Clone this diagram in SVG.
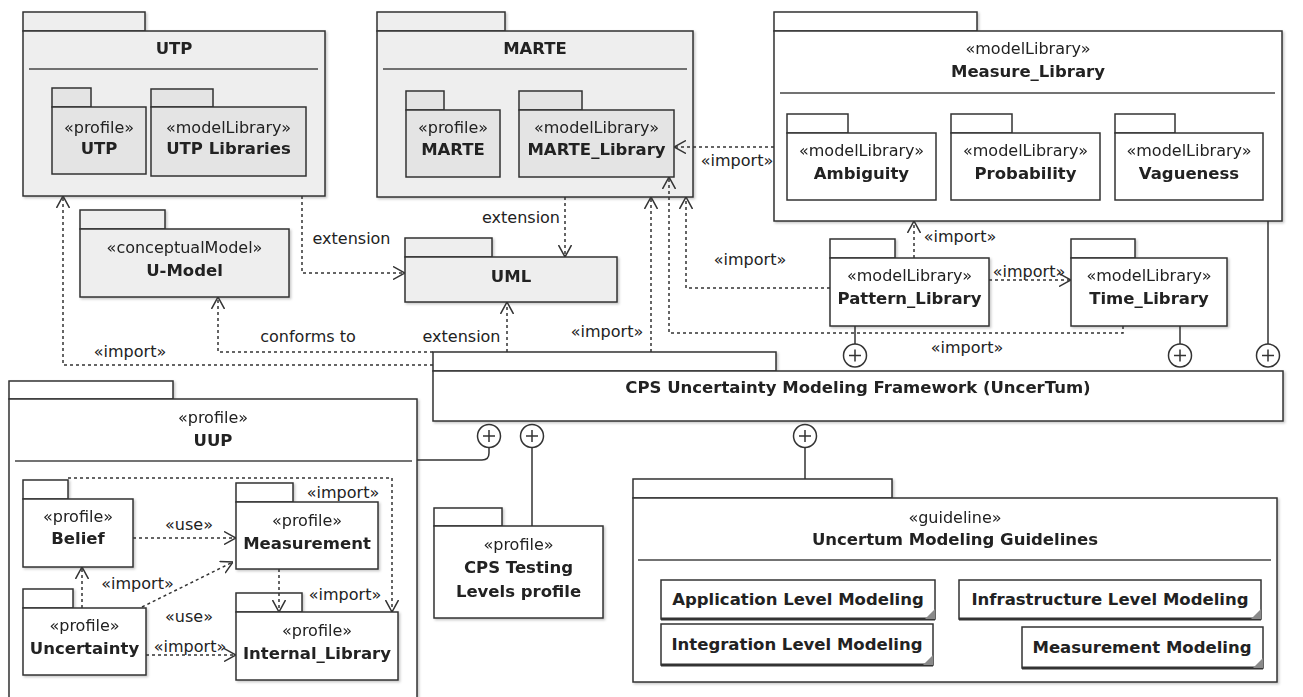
<svg xmlns="http://www.w3.org/2000/svg" width="1303" height="697" viewBox="0 0 1303 697">
  <style>
    .pk { stroke: #333; stroke-width: 1.5; }
    .g1 { fill: #eeeeee; }
    .g2 { fill: #e4e4e4; }
    .w { fill: #ffffff; }
    .sep { stroke: #444; stroke-width: 1.3; }
    text { font-family: "DejaVu Sans", "Liberation Sans", sans-serif; fill: #222; text-anchor: middle; }
    .st { font-size: 16px; }
    .nm { font-size: 16.5px; font-weight: bold; }
    .lbl { font-size: 16px; }
    .dash { fill: none; stroke: #333; stroke-width: 1.5; stroke-dasharray: 3 3; marker-end: url(#open); }
    .solid { fill: none; stroke: #333; stroke-width: 1.5; }
    .own { fill: #fff; stroke: #333; stroke-width: 1.5; }
    .doc { fill: #fff; stroke: #333; stroke-width: 1.5; }
    .corner { fill: #8a8a8a; }
  </style>
  <defs>
    <marker id="open" viewBox="0 0 12 14" refX="12" refY="7" markerWidth="12" markerHeight="14" markerUnits="userSpaceOnUse" orient="auto">
      <path d="M0,0.5 L12,7 L0,13.5" fill="none" stroke="#333" stroke-width="1.5"/>
    </marker>
    <filter id="sh" x="-5%" y="-5%" width="110%" height="115%">
      <feDropShadow dx="1.5" dy="1.5" stdDeviation="1.2" flood-color="#000" flood-opacity="0.22"/>
    </filter>
  </defs>
  <rect width="1303" height="697" fill="#fff"/>

  <!-- UTP -->
  <g id="utp" filter="url(#sh)">
    <rect class="pk g1" x="23" y="12" width="122" height="19"/>
    <rect class="pk g1" x="23" y="31" width="302" height="165"/>
    <line class="sep" x1="29" y1="69" x2="318" y2="69"/>
    <text class="nm" x="174" y="54">UTP</text>
    <rect class="pk g2" x="52" y="88" width="39" height="19"/>
    <rect class="pk g2" x="52" y="107" width="94" height="67"/>
    <text class="st" x="99" y="133">«profile»</text>
    <text class="nm" x="99" y="154">UTP</text>
    <rect class="pk g2" x="151" y="89" width="62" height="18"/>
    <rect class="pk g2" x="151" y="107" width="155" height="69"/>
    <text class="st" x="228.5" y="133">«modelLibrary»</text>
    <text class="nm" x="228.5" y="154">UTP Libraries</text>
  </g>

  <!-- MARTE -->
  <g id="marte" filter="url(#sh)">
    <rect class="pk g1" x="377" y="12" width="128" height="19"/>
    <rect class="pk g1" x="377" y="31" width="316" height="166"/>
    <line class="sep" x1="383" y1="69" x2="687" y2="69"/>
    <text class="nm" x="535" y="54">MARTE</text>
    <rect class="pk g2" x="406" y="91" width="38" height="19"/>
    <rect class="pk g2" x="406" y="110" width="94" height="67"/>
    <text class="st" x="453" y="133">«profile»</text>
    <text class="nm" x="453" y="155">MARTE</text>
    <rect class="pk g2" x="519" y="91" width="63" height="19"/>
    <rect class="pk g2" x="519" y="110" width="155" height="67"/>
    <text class="st" x="596.5" y="133">«modelLibrary»</text>
    <text class="nm" x="596.5" y="155">MARTE_Library</text>
  </g>

  <!-- Measure_Library -->
  <g id="measure-library" filter="url(#sh)">
    <rect class="pk w" x="774" y="12" width="203" height="19"/>
    <rect class="pk w" x="774" y="31" width="508" height="190"/>
    <line class="sep" x1="780" y1="93" x2="1275" y2="93"/>
    <text class="st" x="1028" y="54">«modelLibrary»</text>
    <text class="nm" x="1028" y="77">Measure_Library</text>
    <rect class="pk w" x="787" y="114" width="61" height="19"/>
    <rect class="pk w" x="787" y="133" width="149" height="67"/>
    <text class="st" x="861.5" y="156">«modelLibrary»</text>
    <text class="nm" x="861.5" y="179">Ambiguity</text>
    <rect class="pk w" x="951" y="114" width="61" height="19"/>
    <rect class="pk w" x="951" y="133" width="149" height="67"/>
    <text class="st" x="1025.5" y="156">«modelLibrary»</text>
    <text class="nm" x="1025.5" y="179">Probability</text>
    <rect class="pk w" x="1115" y="114" width="60" height="19"/>
    <rect class="pk w" x="1115" y="133" width="148" height="67"/>
    <text class="st" x="1189" y="156">«modelLibrary»</text>
    <text class="nm" x="1189" y="179">Vagueness</text>
  </g>

  <!-- U-Model -->
  <g id="u-model" filter="url(#sh)">
    <rect class="pk g1" x="80" y="210" width="85" height="19"/>
    <rect class="pk g1" x="80" y="229" width="209" height="68"/>
    <text class="st" x="184.5" y="253">«conceptualModel»</text>
    <text class="nm" x="184.5" y="276">U-Model</text>
  </g>

  <!-- UML -->
  <g id="uml" filter="url(#sh)">
    <rect class="pk g1" x="405" y="238" width="87" height="19"/>
    <rect class="pk g1" x="405" y="257" width="212" height="45"/>
    <text class="nm" x="511" y="282">UML</text>
  </g>

  <!-- Pattern_Library -->
  <g id="pattern-library" filter="url(#sh)">
    <rect class="pk w" x="830" y="239" width="65" height="19"/>
    <rect class="pk w" x="830" y="258" width="159" height="68"/>
    <text class="st" x="909.5" y="281">«modelLibrary»</text>
    <text class="nm" x="909.5" y="304">Pattern_Library</text>
  </g>

  <!-- Time_Library -->
  <g id="time-library" filter="url(#sh)">
    <rect class="pk w" x="1071" y="239" width="64" height="19"/>
    <rect class="pk w" x="1071" y="258" width="156" height="68"/>
    <text class="st" x="1149" y="281">«modelLibrary»</text>
    <text class="nm" x="1149" y="304">Time_Library</text>
  </g>

  <!-- CPS Uncertainty Modeling Framework -->
  <g id="uncertum" filter="url(#sh)">
    <rect class="pk w" x="433" y="352" width="343" height="19"/>
    <rect class="pk w" x="433" y="371" width="850" height="50"/>
    <text class="nm" x="858" y="393">CPS Uncertainty Modeling Framework (UncerTum)</text>
  </g>

  <!-- UUP profile -->
  <g id="uup" filter="url(#sh)">
    <rect class="pk w" x="9" y="381" width="164" height="18"/>
    <rect class="pk w" x="9" y="399" width="408" height="305"/>
    <line class="sep" x1="15" y1="461" x2="412" y2="461"/>
    <text class="st" x="213" y="423">«profile»</text>
    <text class="nm" x="213" y="446">UUP</text>
  </g>
  <g id="belief" filter="url(#sh)">
    <rect class="pk w" x="23" y="480" width="45" height="19"/>
    <rect class="pk w" x="23" y="499" width="110" height="68"/>
    <text class="st" x="78" y="522">«profile»</text>
    <text class="nm" x="78" y="544">Belief</text>
  </g>
  <g id="measurement" filter="url(#sh)">
    <rect class="pk w" x="236" y="483" width="57" height="19"/>
    <rect class="pk w" x="236" y="502" width="142" height="67"/>
    <text class="st" x="307" y="526">«profile»</text>
    <text class="nm" x="307" y="549">Measurement</text>
  </g>
  <g id="uncertainty" filter="url(#sh)">
    <rect class="pk w" x="23" y="589" width="50" height="19"/>
    <rect class="pk w" x="23" y="608" width="123" height="67"/>
    <text class="st" x="84.5" y="631">«profile»</text>
    <text class="nm" x="84.5" y="654">Uncertainty</text>
  </g>
  <g id="internal-library" filter="url(#sh)">
    <rect class="pk w" x="236" y="593" width="66" height="19"/>
    <rect class="pk w" x="236" y="612" width="162" height="68"/>
    <text class="st" x="317" y="636">«profile»</text>
    <text class="nm" x="317" y="659">Internal_Library</text>
  </g>

  <!-- CPS Testing Levels profile -->
  <g id="cps-testing" filter="url(#sh)">
    <rect class="pk w" x="434" y="508" width="68" height="18"/>
    <rect class="pk w" x="434" y="526" width="169" height="92"/>
    <text class="st" x="518.5" y="550">«profile»</text>
    <text class="nm" x="518.5" y="573">CPS Testing</text>
    <text class="nm" x="518.5" y="597">Levels profile</text>
  </g>

  <!-- Modeling guidelines -->
  <g id="guidelines" filter="url(#sh)">
    <rect class="pk w" x="633" y="479" width="259" height="19"/>
    <rect class="pk w" x="633" y="498" width="644" height="184"/>
    <line class="sep" x1="638" y1="560" x2="1271" y2="560"/>
    <text class="st" x="955" y="523">«guideline»</text>
    <text class="nm" x="955" y="545">Uncertum Modeling Guidelines</text>
  </g>
  <g id="app-level">
    <rect class="doc" x="661" y="580" width="274" height="39"/>
    <line x1="661" y1="619" x2="935" y2="619" stroke="#333" stroke-width="3"/>
    <polygon class="corner" points="925,619 935,609 935,619"/>
    <text class="nm" x="798" y="605">Application Level Modeling</text>
  </g>
  <g id="integration-level">
    <rect class="doc" x="661" y="624" width="272" height="41"/>
    <line x1="661" y1="665" x2="933" y2="665" stroke="#333" stroke-width="3"/>
    <polygon class="corner" points="923,665 933,655 933,665"/>
    <text class="nm" x="797" y="650">Integration Level Modeling</text>
  </g>
  <g id="infrastructure-level">
    <rect class="doc" x="959" y="580" width="302" height="39"/>
    <line x1="959" y1="619" x2="1261" y2="619" stroke="#333" stroke-width="3"/>
    <polygon class="corner" points="1251,619 1261,609 1261,619"/>
    <text class="nm" x="1110" y="605">Infrastructure Level Modeling</text>
  </g>
  <g id="measurement-modeling">
    <rect class="doc" x="1022" y="627" width="241" height="41"/>
    <line x1="1022" y1="668" x2="1263" y2="668" stroke="#333" stroke-width="3"/>
    <polygon class="corner" points="1253,668 1263,658 1263,668"/>
    <text class="nm" x="1142" y="653">Measurement Modeling</text>
  </g>

  <!-- connectors -->
  <g id="connectors">
    <!-- dependencies -->
    <path class="dash" d="M302,196 V273 H405"/>
    <path class="dash" d="M565,197 V257"/>
    <path class="dash" d="M507,352 V302"/>
    <path class="dash" d="M433,352 H218 V297"/>
    <path class="dash" d="M433,365 H63 V196"/>
    <path class="dash" d="M651,352 V197"/>
    <path class="dash" d="M830,288 H686 V197"/>
    <path class="dash" d="M1123,326 V333 H669 V177"/>
    <path class="dash" d="M774,147 H674"/>
    <path class="dash" d="M914,258 V221"/>
    <path class="dash" d="M989,280 H1071"/>
    <!-- inside UUP -->
    <path class="dash" d="M133,538 H236"/>
    <path class="dash" d="M82,608 V567"/>
    <path class="dash" d="M142,607 L233,562"/>
    <path class="dash" d="M146,655 H236"/>
    <path class="dash" d="M279,569 V612"/>
    <path class="dash" d="M68,478 H392 V612"/>

    <!-- ownership -->
    <path class="solid" d="M855,326 V344"/>
    <path class="solid" d="M1180,326 V344"/>
    <path class="solid" d="M1268,221 V344"/>
    <path class="solid" d="M417,460 H482 Q489,460 489,453 V447"/>
    <path class="solid" d="M532,447 V526"/>
    <path class="solid" d="M805,447 V479"/>
    <g>
      <circle class="own" cx="855" cy="355.5" r="11.5"/>
      <path class="solid" d="M849,355.5 H861 M855,349.5 V361.5"/>
      <circle class="own" cx="1180" cy="355.5" r="11.5"/>
      <path class="solid" d="M1174,355.5 H1186 M1180,349.5 V361.5"/>
      <circle class="own" cx="1268" cy="355.5" r="11.5"/>
      <path class="solid" d="M1262,355.5 H1274 M1268,349.5 V361.5"/>
      <circle class="own" cx="489" cy="436" r="11.5"/>
      <path class="solid" d="M483,436 H495 M489,430 V442"/>
      <circle class="own" cx="532" cy="436" r="11.5"/>
      <path class="solid" d="M526,436 H538 M532,430 V442"/>
      <circle class="own" cx="805" cy="436" r="11.5"/>
      <path class="solid" d="M799,436 H811 M805,430 V442"/>
    </g>

    <!-- labels -->
    <text class="lbl" x="351.5" y="244">extension</text>
    <text class="lbl" x="521" y="223">extension</text>
    <text class="lbl" x="461.5" y="342">extension</text>
    <text class="lbl" x="308" y="342">conforms to</text>
    <text class="lbl" x="130" y="357">«import»</text>
    <text class="lbl" x="607" y="337">«import»</text>
    <text class="lbl" x="750" y="265">«import»</text>
    <text class="lbl" x="737" y="166">«import»</text>
    <text class="lbl" x="960" y="242">«import»</text>
    <text class="lbl" x="1029" y="277">«import»</text>
    <text class="lbl" x="967" y="353">«import»</text>
    <text class="lbl" x="189" y="530">«use»</text>
    <text class="lbl" x="137.5" y="589">«import»</text>
    <text class="lbl" x="189" y="622">«use»</text>
    <text class="lbl" x="190" y="652">«import»</text>
    <text class="lbl" x="343" y="498">«import»</text>
    <text class="lbl" x="345" y="600">«import»</text>
  </g>
</svg>
